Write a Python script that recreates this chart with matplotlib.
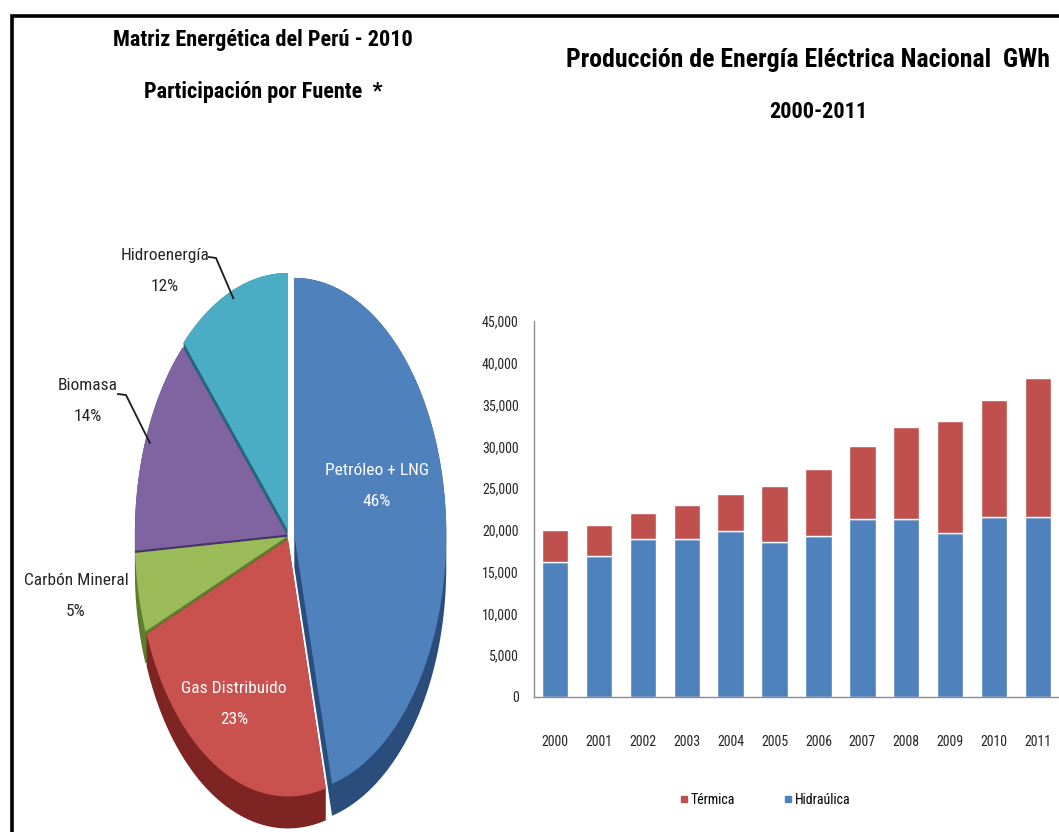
import matplotlib
matplotlib.use("Agg")
import matplotlib.pyplot as plt
import numpy as np
from matplotlib import font_manager
from matplotlib.patches import Polygon, Rectangle
from matplotlib.lines import Line2D
from matplotlib.ticker import FuncFormatter

W, H, DPI = 1059, 832, 100

# pick the narrowest family available, DejaVu as the last resort
_have = {f.name for f in font_manager.fontManager.ttflist}
_narrow = [n for n in ("Liberation Sans Narrow", "DejaVu Sans Condensed",
                       "Roboto Condensed", "Open Sans Condensed", "Roboto")
           if n in _have]
NARROW = (_narrow[:1] or []) + ["DejaVu Sans"]
CONDENSED = NARROW[0] in ("Liberation Sans Narrow", "DejaVu Sans Condensed",
                          "Roboto Condensed", "Open Sans Condensed")

# --- pie: participación por fuente (2010) ---
fuentes = ["Petróleo + LNG", "Gas Distribuido", "Carbón Mineral", "Biomasa", "Hidroenergía"]
participacion = [46, 23, 5, 14, 12]

# --- bars: producción eléctrica, GWh ---
anios = ["2000", "2001", "2002", "2003", "2004", "2005",
         "2006", "2007", "2008", "2009", "2010", "2011"]
hidraulica = [16200, 16900, 18900, 18900, 19900, 18500,
              19300, 21300, 21300, 19600, 21600, 21600]
termica = [3800, 3700, 3100, 4100, 4400, 6800,
           8000, 8700, 11000, 13400, 14000, 16600]
yticks = [0, 5000, 10000, 15000, 20000, 25000, 30000, 35000, 40000, 45000]

top_colors = ["#4f81bd", "#c9514e", "#9bbb59", "#8064a2", "#4bacc6"]
side_colors = ["#2a4d7c", "#7e2523", "#5e7d2c", "#47356a", "#23677a"]
explode = [0.035, 0.015, 0.015, 0.015, 0.025]

k = 1.0 if CONDENSED else 0.9
fs_left_title = 16 * k
fs_right_title = 18.5 * k
fs_right_sub = 16 * k
label_fs = 12.5 * k
tick_fs = 10 * k

fig = plt.figure(figsize=(W / DPI, H / DPI), dpi=DPI)

# frame around the whole graphic (runs off the right/bottom edge)
fig.patches.append(Rectangle((12 / W, -0.05), 1.1, 1.05 - 15.5 / H,
                             transform=fig.transFigure, fill=False,
                             edgecolor="black", linewidth=2.6))


def convex_hull(points):
    pts = sorted(set(map(tuple, np.round(points, 6))))
    if len(pts) < 3:
        return np.array(pts)

    def cross(o, a, b):
        return (a[0] - o[0]) * (b[1] - o[1]) - (a[1] - o[1]) * (b[0] - o[0])

    lower, upper = [], []
    for p in pts:
        while len(lower) >= 2 and cross(lower[-2], lower[-1], p) <= 0:
            lower.pop()
        lower.append(p)
    for p in reversed(pts):
        while len(upper) >= 2 and cross(upper[-2], upper[-1], p) <= 0:
            upper.pop()
        upper.append(p)
    return np.array(lower[:-1] + upper[:-1])


def wedge_outline(t1, t2, shift):
    ang = np.radians(np.linspace(t1, t2, 90))
    xs = np.concatenate([[0.0], np.cos(ang)]) + shift[0]
    ys = np.concatenate([[0.0], np.sin(ang)]) + shift[1]
    return np.column_stack([xs, ys])


# pie axes: unit circle stretched to the tall ellipse
cx, cy, rx, ry = 289, 536, 152, 257
axp = fig.add_axes([0, 0, 0.5, 1])
axp.set_xlim((0 - cx) / rx, (W * 0.5 - cx) / rx)
axp.set_ylim((0 - (H - cy)) / ry, (H - (H - cy)) / ry)
axp.set_axis_off()

depth = 32 / ry
shares = np.array(participacion, dtype=float)
ends = 90 - 360 * np.cumsum(shares) / shares.sum()
starts = np.concatenate([[90.0], ends[:-1]])

wedges = []
for i in range(len(shares)):
    t1, t2 = ends[i], starts[i]
    mid = np.radians((t1 + t2) / 2)
    shift = (explode[i] * np.cos(mid), explode[i] * np.sin(mid))
    outline = wedge_outline(t1, t2, shift)
    wedges.append((i, mid, shift, outline))

# sides back to front, then the top faces
for i, mid, shift, outline in sorted(wedges, key=lambda w: -np.sin(w[1])):
    lowered = outline + np.array([0.0, -depth])
    side = convex_hull(np.vstack([outline, lowered]))
    axp.add_patch(Polygon(side, closed=True, facecolor=side_colors[i],
                          edgecolor="none"))
for i, mid, shift, outline in wedges:
    axp.add_patch(Polygon(outline, closed=True, facecolor=top_colors[i],
                          edgecolor="none"))


def px(x, y):
    return (x - cx) / rx, (cy - y) / ry


label_pos = {0: px(377, 486), 1: px(234, 704), 2: px(76, 596),
             3: px(88, 401), 4: px(165, 271)}
for i, name in enumerate(fuentes):
    inside = i in (0, 1)
    axp.text(*label_pos[i], f"{name}\n{participacion[i]}%", ha="center",
             va="center", fontsize=label_fs, family=NARROW, linespacing=2.35,
             color="white" if inside else "#262626")

# leader lines for Biomasa and Hidroenergía
for i, (a, b) in {3: (px(118, 394), px(126, 395)),
                  4: (px(209, 257), px(216, 258))}.items():
    mid, shift = wedges[i][1], wedges[i][2]
    ex, ey = 0.97 * np.cos(mid) + shift[0], 0.97 * np.sin(mid) + shift[1]
    axp.plot([a[0], b[0], ex], [a[1], b[1], ey], color="#1a1a1a", lw=1.3)

# titles
title_kw = dict(ha="center", va="center", fontweight="bold", family=NARROW)
fig.text(263 / W, 1 - 40 / H, "Matriz Energética del Perú - 2010",
         fontsize=fs_left_title, **title_kw)
fig.text(263 / W, 1 - 92 / H, "Participación por Fuente  *",
         fontsize=fs_left_title, **title_kw)
fig.text(808 / W, 1 - 60 / H, "Producción de Energía Eléctrica Nacional  GWh",
         fontsize=fs_right_title, **title_kw)
fig.text(818 / W, 1 - 112 / H, "2000-2011", fontsize=fs_right_sub, **title_kw)

# stacked bars
axb = fig.add_axes([534 / W, (H - 697) / H, (W - 534) / W, (697 - 321) / H])
x = np.arange(len(anios))
axb.bar(x, hidraulica, width=0.6, color="#4f81bd", edgecolor="white", linewidth=1)
axb.bar(x, termica, width=0.6, bottom=hidraulica, color="#c0504d",
        edgecolor="white", linewidth=1)
axb.set_xlim(-0.48, len(anios) - 0.52)
axb.set_ylim(0, 45000)
axb.set_yticks(yticks)
axb.yaxis.set_major_formatter(FuncFormatter(lambda v, p: f"{int(v):,}"))
axb.set_xticks(x)
axb.set_xticklabels(anios)
for s in ("top", "right"):
    axb.spines[s].set_visible(False)
for s in ("left", "bottom"):
    axb.spines[s].set_color("#8c8c8c")
    axb.spines[s].set_linewidth(1)
axb.tick_params(axis="y", length=0, pad=11, labelsize=tick_fs, labelcolor="#262626")
axb.tick_params(axis="x", length=0, pad=27, labelsize=tick_fs, labelcolor="#262626")
for lab in axb.get_xticklabels() + axb.get_yticklabels():
    lab.set_family(NARROW)

handles = [Line2D([], [], marker="s", ls="", color="#c0504d", markersize=5,
                  label="Térmica"),
           Line2D([], [], marker="s", ls="", color="#4f81bd", markersize=5,
                  label="Hidraúlica")]
fig.legend(handles=handles, loc="center", bbox_to_anchor=(765 / W, 1 - 800 / H),
           ncol=2, frameon=False, handlelength=0.6, handletextpad=0.2,
           columnspacing=3.5, prop={"family": NARROW, "size": tick_fs})

fig.savefig("out.png", dpi=DPI)
